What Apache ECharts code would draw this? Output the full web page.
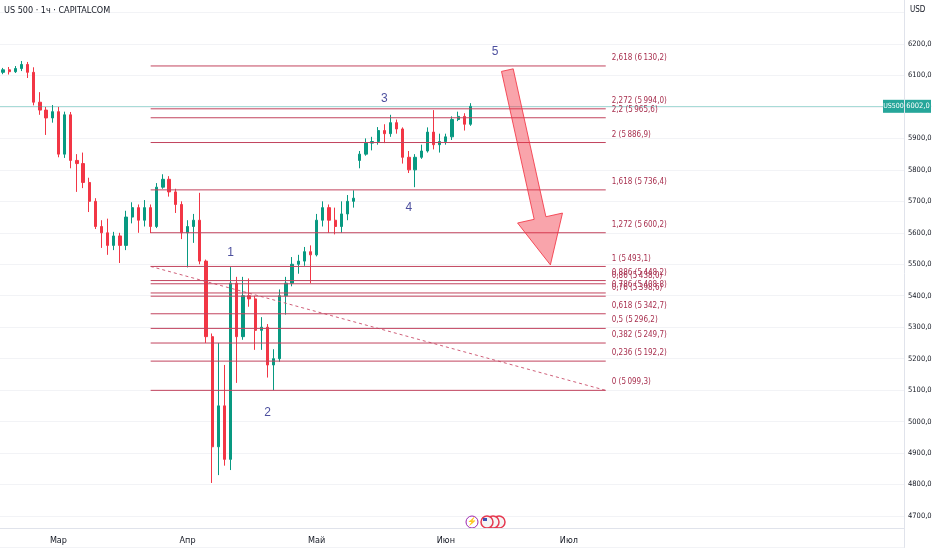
<!DOCTYPE html>
<html>
<head>
<meta charset="utf-8">
<script src="https://cdn.jsdelivr.net/npm/echarts@6/dist/echarts.min.js"></script>
<style>
html, body { margin: 0; padding: 0; background: #fff; }
#chart { width: 932px; height: 550px; }
</style>
</head>
<body>
<div id="chart"></div>
<script>
// trading days from 18 Feb 2025, one category per session
var holidays = ['2025-04-18', '2025-05-26', '2025-06-19', '2025-07-04'];
var categories = [];
(function () {
    var d = new Date(Date.UTC(2025, 1, 18));
    while (categories.length < 147) {
        var s = d.toISOString().slice(0, 10);
        var wd = d.getUTCDay();
        if (wd !== 0 && wd !== 6 && holidays.indexOf(s) < 0) categories.push(s);
        d.setUTCDate(d.getUTCDate() + 1);
    }
})();

var monthTicks = { '2025-03-03': 'Мар', '2025-04-01': 'Апр', '2025-05-01': 'Май', '2025-06-02': 'Июн', '2025-07-01': 'Июл' };

var openP  = [6110,6118,6112,6122,6135,6110,6015,5990,5965,5985,5850,5975,5830,5820,5760,5700,5620,5600,5560,5590,
              5560,5650,5680,5640,5680,5620,5745,5770,5730,5690,5600,5620,5640,5510,5270,4920,5050,4880,5440,5270,
              5400,5390,5290,5300,5180,5200,5400,5440,5500,5510,5540,5530,5640,5680,5640,5620,5660,5700,5830,5850,
              5885,5890,5925,5915,5950,5930,5840,5800,5840,5860,5920,5880,5890,5905,5960,5970,5945];
var closeP = [6118,6112,6122,6135,6110,6015,5990,5965,5985,5850,5975,5830,5820,5760,5700,5620,5600,5560,5590,5560,
              5650,5680,5640,5680,5620,5745,5770,5730,5690,5600,5620,5640,5510,5270,4920,5050,4880,5440,5270,5400,
              5390,5290,5300,5180,5200,5400,5440,5500,5510,5540,5530,5640,5680,5640,5620,5660,5700,5710,5850,5885,
              5890,5925,5915,5950,5930,5840,5800,5840,5860,5920,5880,5890,5905,5960,5970,5945,6002];
var lowP   = [6104,6103,6108,6114,6092,6005,5975,5911,5950,5840,5838,5805,5730,5742,5666,5612,5552,5530,5545,5504,
              5545,5630,5600,5620,5599,5615,5740,5715,5663,5580,5490,5568,5500,5250,4805,4830,4860,4846,5123,5260,
              5365,5228,5228,5140,5100,5190,5340,5430,5470,5495,5440,5525,5620,5600,5595,5600,5640,5680,5805,5845,
              5862,5880,5885,5905,5915,5820,5790,5745,5835,5855,5865,5855,5880,5895,5955,5925,5940];
var highP  = [6124,6127,6130,6146,6143,6126,6047,6000,6006,6000,5985,5984,5850,5855,5775,5710,5640,5645,5603,5600,
              5670,5697,5690,5704,5690,5758,5786,5780,5740,5700,5640,5660,5727,5515,5280,5250,5180,5491,5460,5460,
              5455,5400,5332,5310,5230,5420,5460,5523,5530,5555,5560,5660,5700,5690,5680,5700,5720,5735,5860,5900,
              5905,5936,5945,5975,5960,5935,5860,5850,5880,5935,5990,5915,5915,5970,5985,5980,6012];

var lastPrice = 6002;

var fibRatios = [2.618, 2.272, 2.2, 2, 1.618, 1.272, 1, 0.886, 0.86, 0.786, 0.76, 0.618, 0.5, 0.382, 0.236, 0];
var fibPrices = [6130.2, 5994.0, 5965.6, 5886.9, 5736.4, 5600.2, 5493.1, 5448.2, 5438.0, 5408.8, 5398.6, 5342.7, 5296.2, 5249.7, 5192.2, 5099.3];
var fibFrom = 24, fibTo = 98;

var trendLine = [[24, 5493.1], [98, 5099.3]];

var waveLabels = [[37, 5536, '1'], [43, 5027, '2'], [62, 6025, '3'], [66, 5679, '4'], [80, 6175, '5']];

// arrow: tail (category, price) -> tip (category, price)
var arrowPts = [[82, 6117, 89, 5498]];

var yTicks = [4700, 6200];

var narrow = "'Liberation Sans Narrow', 'DejaVu Sans Condensed', 'Liberation Sans', sans-serif";

function fmtNum(v, sep) {
    var s = v.toFixed(1).replace('.', ',');
    if (sep && v >= 1000) s = s.slice(0, s.length - 5) + '\u2009' + s.slice(s.length - 5);
    return s;
}

var candles = openP.map(function (o, i) {
    return [o, closeP[i], lowP[i], highP[i]];
});

var myChart = echarts.init(document.getElementById('chart'), null, { renderer: 'canvas' });

var option = {
    animation: false,
    backgroundColor: '#ffffff',
    grid: { left: 0, right: 28, top: -18.93, bottom: 2.53, outerBoundsMode: 'none' },
    xAxis: {
        type: 'category',
        data: categories,
        boundaryGap: true,
        offset: -19.5,
        axisLine: { lineStyle: { color: '#e0e3eb' } },
        axisTick: { show: false },
        splitLine: { show: false },
        axisLabel: {
            interval: 0,
            margin: 8,
            color: '#131722',
            fontSize: 9,
            fontFamily: narrow,
            formatter: function (v) { return monthTicks[v] || ''; }
        }
    },
    yAxis: {
        type: 'value',
        position: 'right',
        min: 4600,
        max: 6400,
        interval: 100,
        axisLine: { show: true, lineStyle: { color: '#e0e3eb' } },
        axisTick: { show: false },
        splitLine: { lineStyle: { color: '#f2f3f6' } },
        axisLabel: {
            margin: 4,
            color: '#131722',
            fontSize: 7.5,
            fontFamily: narrow,
            formatter: function (v) { return (v >= yTicks[0] && v <= yTicks[1]) ? fmtNum(v, false) : ''; }
        }
    },
    series: [
        {
            type: 'candlestick',
            data: candles,
            barWidth: '45%',
            itemStyle: {
                color: '#089981', color0: '#f23645',
                borderColor: '#089981', borderColor0: '#f23645', borderWidth: 1
            },
            markLine: {
                silent: true,
                symbol: 'none',
                label: { show: false },
                lineStyle: { color: '#26a69a', opacity: 0.4, type: 'solid', width: 1 },
                data: [{ yAxis: lastPrice }]
            }
        },
        {
            type: 'custom',
            z: 5,
            clip: false,
            encode: { x: [0, 1], y: 2 },
            data: fibPrices.map(function (p, i) { return [fibFrom, fibTo, p, i]; }),
            renderItem: function (params, api) {
                var a = api.coord([api.value(0), api.value(2)]);
                var b = api.coord([api.value(1), api.value(2)]);
                var i = api.value(3);
                var txt = String(fibRatios[i]).replace('.', ',') + ' (' + fmtNum(fibPrices[i], true) + ')';
                return {
                    type: 'group',
                    children: [
                        { type: 'line', shape: { x1: a[0], y1: a[1], x2: b[0], y2: b[1] },
                          style: { stroke: '#c2445e', lineWidth: 1 } },
                        { type: 'text', x: b[0] + 6, y: a[1] - 8,
                          style: { text: txt, fill: '#a8304f', font: '8px ' + narrow, verticalAlign: 'middle' } }
                    ]
                };
            }
        },
        {
            type: 'line',
            z: 4,
            data: trendLine,
            symbol: 'none',
            silent: true,
            lineStyle: { color: '#d0607a', width: 1, type: [3, 3] }
        },
        {
            type: 'scatter',
            z: 6,
            data: waveLabels,
            symbolSize: 0,
            label: {
                show: true,
                position: 'inside',
                formatter: function (p) { return p.value[2]; },
                color: '#1f2386',
                fontSize: 12,
                fontFamily: "'Liberation Sans', sans-serif"
            }
        },
        {
            type: 'custom',
            z: 7,
            clip: false,
            encode: { x: [0, 2], y: [1, 3] },
            data: arrowPts,
            renderItem: function (params, api) {
                var t = api.coord([api.value(0), api.value(1)]);
                var p = api.coord([api.value(2), api.value(3)]);
                var dx = p[0] - t[0], dy = p[1] - t[1];
                var len = Math.sqrt(dx * dx + dy * dy);
                var ux = dx / len, uy = dy / len;
                var nx = uy, ny = -ux;
                var sw = 6, hw = 23, hl = 48;
                var bx = p[0] - ux * hl, by = p[1] - uy * hl;
                var pts = [
                    [t[0] + nx * sw, t[1] + ny * sw],
                    [bx + nx * sw, by + ny * sw],
                    [bx + nx * hw, by + ny * hw],
                    [p[0], p[1]],
                    [bx - nx * hw, by - ny * hw],
                    [bx - nx * sw, by - ny * sw],
                    [t[0] - nx * sw, t[1] - ny * sw]
                ];
                return {
                    type: 'polygon',
                    shape: { points: pts },
                    style: { fill: 'rgba(242,54,69,0.45)', stroke: 'rgba(242,54,69,0.85)', lineWidth: 1 }
                };
            }
        }
    ]
};

myChart.setOption(option);

// header, currency and last price tag
var py = myChart.convertToPixel({ yAxisIndex: 0 }, lastPrice);
myChart.setOption({
    graphic: [
        { type: 'text', left: 4, top: 6, style: { text: 'US 500 · 1ч · CAPITALCOM', fill: '#131722', font: '9px ' + narrow } },
        { type: 'text', left: 910, top: 6, style: { text: 'USD', fill: '#131722', font: '8px ' + narrow } },
        { type: 'rect', z: 100, shape: { x: 883, y: py - 6.5, width: 21, height: 13 }, style: { fill: '#26a69a' } },
        { type: 'text', z: 101, x: 893.5, y: py, style: { text: 'US500', fill: '#fff', font: '7px ' + narrow, align: 'center', verticalAlign: 'middle' } },
        { type: 'rect', z: 100, shape: { x: 905, y: py - 6.5, width: 26, height: 13 }, style: { fill: '#26a69a' } },
        { type: 'text', z: 101, x: 918, y: py, style: { text: fmtNum(lastPrice, false), fill: '#fff', font: '7.5px ' + narrow, align: 'center', verticalAlign: 'middle' } },
        { type: 'circle', shape: { cx: 472, cy: 522, r: 6 }, style: { fill: '#fff', stroke: '#9c27b0', lineWidth: 1 } },
        { type: 'text', x: 472, y: 522, style: { text: '⚡', fill: '#9c27b0', font: '8px sans-serif', align: 'center', verticalAlign: 'middle' } },
        { type: 'circle', shape: { cx: 499, cy: 522, r: 6 }, style: { fill: '#f5f5f5', stroke: '#e53950', lineWidth: 1.5 } },
        { type: 'circle', shape: { cx: 493, cy: 522, r: 6 }, style: { fill: '#f5f5f5', stroke: '#e53950', lineWidth: 1.5 } },
        { type: 'circle', shape: { cx: 487, cy: 522, r: 6 }, style: { fill: '#f5f5f5', stroke: '#e53950', lineWidth: 1.5 } },
        { type: 'rect', shape: { x: 483, y: 518, width: 4, height: 3 }, style: { fill: '#3f51b5' } }
    ]
});
</script>
</body>
</html>
